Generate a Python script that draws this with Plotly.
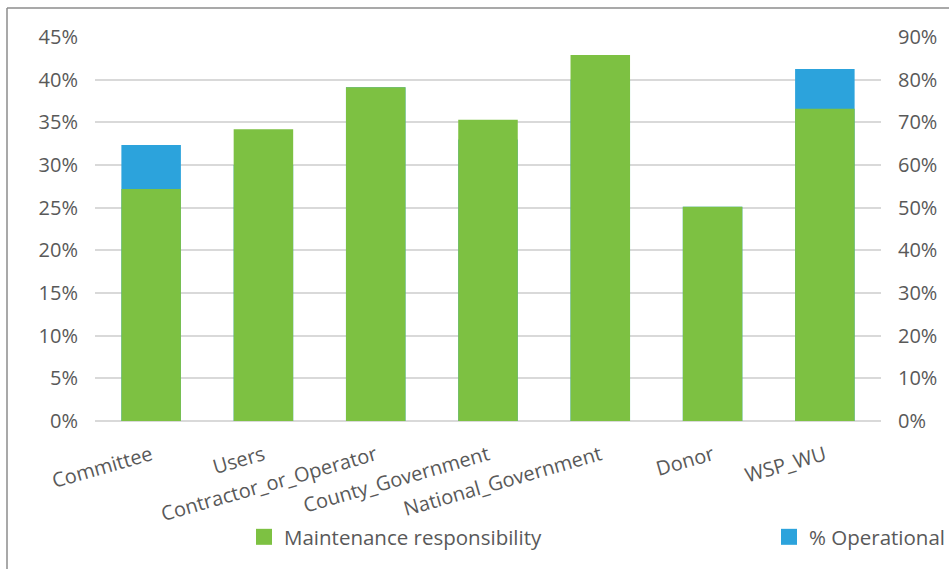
import plotly.graph_objects as go

categories = [
    "Committee",
    "Users",
    "Contractor_or_Operator",
    "County_Government",
    "National_Government",
    "Donor",
    "WSP_WU",
]
# left axis (0-45%)
maintenance = [0.272, 0.342, 0.391, 0.353, 0.429, 0.251, 0.366]
# right axis (0-90%), mostly hidden behind the green bars
operational = [0.647, 0.60, 0.782, 0.66, 0.80, 0.502, 0.825]

green = "#7DC142"
blue = "#2CA3DC"
grey_text = "#595959"

fig = go.Figure()

# blue on the primary axis so it is drawn first (behind)
fig.add_trace(
    go.Bar(
        x=categories,
        y=operational,
        name="% Operational",
        marker=dict(color=blue, line=dict(width=0)),
        yaxis="y",
        offsetgroup="a",
        width=0.53,
        showlegend=False,
    )
)
fig.add_trace(
    go.Bar(
        x=categories,
        y=maintenance,
        name="Maintenance responsibility",
        marker=dict(color=green, line=dict(width=0)),
        yaxis="y2",
        offsetgroup="a",
        width=0.53,
        showlegend=False,
    )
)

# legend entries with bigger square swatches
fig.add_trace(go.Scatter(x=[None], y=[None], mode="markers", name="Maintenance responsibility",
                         marker=dict(symbol="square", size=16, color=green), legend="legend"))
fig.add_trace(go.Scatter(x=[None], y=[None], mode="markers", name="% Operational",
                         marker=dict(symbol="square", size=16, color=blue), legend="legend2"))

# outer frame lines (top and left)
frame_x = (7 - 95) / 786
frame_y = (421 - 8) / 384
fig.add_shape(type="line", xref="paper", yref="paper", x0=frame_x, x1=1.2,
              y0=frame_y, y1=frame_y, line=dict(color="#8c8c8c", width=1.5))
fig.add_shape(type="line", xref="paper", yref="paper", x0=frame_x, x1=frame_x,
              y0=frame_y, y1=-0.5, line=dict(color="#8c8c8c", width=1.5))

legend_font = dict(size=20.5, color=grey_text)

fig.update_layout(
    width=949,
    height=569,
    margin=dict(l=95, r=68, t=37, b=148),
    paper_bgcolor="white",
    plot_bgcolor="white",
    barmode="overlay",
    font=dict(family="Open Sans", size=20, color=grey_text),
    xaxis=dict(
        tickangle=-16,
        tickfont=dict(size=20, color=grey_text),
        showgrid=False,
        showline=False,
        ticks="outside",
        ticklen=14,
        tickcolor="white",
        automargin=False,
    ),
    yaxis=dict(
        side="right",
        range=[0, 0.9],
        dtick=0.1,
        tickformat=".0%",
        showgrid=True,
        gridcolor="#d9d9d9",
        gridwidth=1.5,
        zeroline=True,
        zerolinecolor="#d9d9d9",
        zerolinewidth=1.5,
        ticks="outside",
        ticklen=12,
        tickcolor="white",
        tickfont=dict(size=20, color=grey_text),
        automargin=False,
    ),
    yaxis2=dict(
        side="left",
        overlaying="y",
        range=[0, 0.45],
        dtick=0.05,
        tickformat=".0%",
        showgrid=False,
        zeroline=False,
        ticks="outside",
        ticklen=12,
        tickcolor="white",
        tickfont=dict(size=20, color=grey_text),
        automargin=False,
    ),
    legend=dict(
        orientation="h",
        xref="container",
        yref="container",
        x=244 / 949,
        xanchor="left",
        y=32 / 569,
        yanchor="middle",
        font=legend_font,
        bgcolor="rgba(0,0,0,0)",
    ),
    legend2=dict(
        orientation="h",
        xref="container",
        yref="container",
        x=769 / 949,
        xanchor="left",
        y=32 / 569,
        yanchor="middle",
        font=legend_font,
        bgcolor="rgba(0,0,0,0)",
    ),
    showlegend=True,
)

# drop the page's default body margin so the figure sits at the window corner
fig.write_html(
    "out.html",
    config={"displayModeBar": False},
    post_script="document.body.style.margin='0';",
)
